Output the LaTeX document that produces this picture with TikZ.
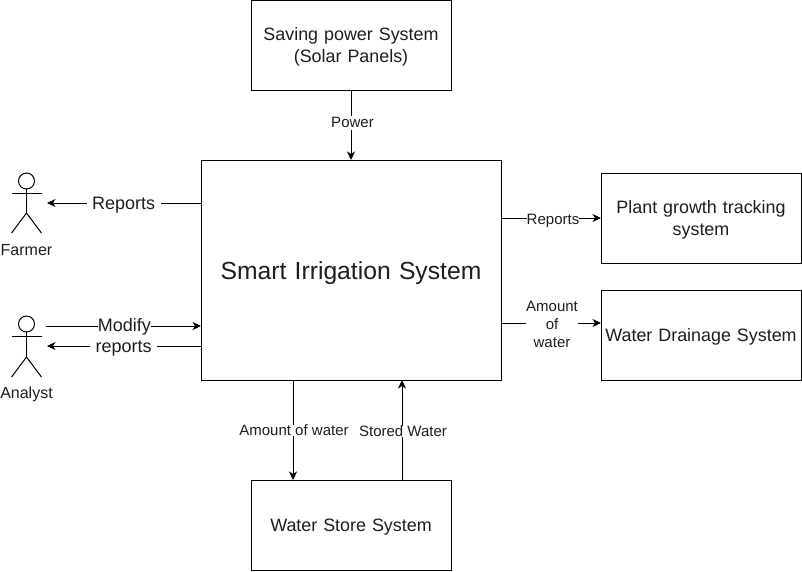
\documentclass[tikz,border=0pt]{standalone}
\usepackage{fontspec}
\setmainfont{Liberation Sans}
\usetikzlibrary{arrows.meta}
\definecolor{inkc}{RGB}{0,0,0}
\definecolor{textc}{RGB}{30,30,30}
\newcommand{\fs}[2]{\fontsize{#1}{#2}\selectfont}
\newcommand{\dn}[1]{\rule{0pt}{#1pt}}
\tikzset{
  x=1pt,y=-1pt,
  every node/.style={text=textc,inner sep=0pt,outer sep=0pt,align=center},
  sysbox/.style={draw=inkc,line width=1pt,minimum width=#1,text width=#1-2pt},
  flow/.style={draw=inkc,line width=1pt,-{Stealth[length=8.5pt,width=8pt,inset=2.5pt]}},
  plainline/.style={draw=inkc,line width=1pt},
  lbl/.style={fill=white,inner sep=0pt,font=\fs{15}{18}},
  biglbl/.style={fill=white,inner xsep=5.5pt,inner ysep=0pt,font=\fs{18}{22}},
  boxtext/.style={font=\fs{17.9}{22}}
}
\begin{document}
\begin{tikzpicture}
\useasboundingbox (0,0) rectangle (802,571);
\fill[white] (0,0) rectangle (802,571);

\node[sysbox=200pt,minimum height=90pt,boxtext] (solar) at (351,45) {\dn{16.5}Saving power System\\(Solar Panels)};
\node[sysbox=300pt,minimum height=220pt,font=\fs{24.7}{28}] (main) at (351,270) {\dn{24}Smart Irrigation System};
\node[sysbox=200pt,minimum height=90pt,boxtext] (plant) at (701,218) {\dn{17}Plant growth tracking\\system};
\node[sysbox=200pt,minimum height=90pt,boxtext] (drain) at (701,335) {\dn{16}Water Drainage System};
\node[sysbox=200pt,minimum height=90pt,boxtext] (store) at (351,525) {\dn{16}Water Store System};

% Farmer
\node[draw=inkc,line width=1pt,circle,minimum size=16pt] (farmerhead) at (26.5,181) {};
\coordinate (farmerhip) at (26.5,213);
\draw[plainline] (farmerhead.south) -- (farmerhip);
\draw[plainline] (11.5,193) -- (41.5,193);
\draw[plainline] (11.5,233) -- (farmerhip) -- (41.5,233);
\node[font=\fs{16}{18}] (farmerlabel) at (26.5,250) {Farmer};
\coordinate (farmerport) at (47,203);

% Analyst
\node[draw=inkc,line width=1pt,circle,minimum size=16pt] (analysthead) at (26.5,324) {};
\coordinate (analysthip) at (26.5,357);
\draw[plainline] (analysthead.south) -- (analysthip);
\draw[plainline] (11.5,336) -- (41.5,336);
\draw[plainline] (11.5,377) -- (analysthip) -- (41.5,377);
\node[font=\fs{16}{18}] (analystlabel) at (26.5,394) {Analyst};
\coordinate (analystout) at (46,326);
\coordinate (analystin) at (47,346);

% Connectors
\draw[flow] (solar.south) -- node[lbl,pos=.44,yshift=-2pt,xshift=1.5pt,inner ysep=2pt] (l1) {Power} (main.north);
\draw[flow] (main.west |- farmerport) -- node[biglbl,pos=.503,yshift=-2.2pt] (l2) {Reports} (farmerport);
\draw[flow] (analystout) -- node[biglbl,pos=.506,inner xsep=0pt,yshift=-1.2pt] (l3) {Modify} (main.west |- analystout);
\draw[flow] (main.west |- analystin) -- node[biglbl,pos=.503,yshift=-2.2pt] (l4) {reports} (analystin);
\draw[flow] (main.east |- plant.west) -- node[lbl,pos=.52,yshift=-2.5pt] (l5) {Reports} (plant.west);
\draw[flow] (main.east |- 0,323) -- node[lbl,pos=.51,yshift=-1pt] (l6) {Amount\\of\\water} (drain.west |- 0,323);
\draw[flow] ([xshift=92pt]main.south west) -- node[lbl,pos=.5,xshift=1pt] (l7) {Amount of water} ([xshift=42pt]store.north west);
\draw[flow] ([xshift=151pt]store.north west) -- node[lbl,pos=.5,yshift=-1pt,xshift=1pt] (l8) {Stored Water} ([xshift=201pt]main.south west);
\end{tikzpicture}
\end{document}
